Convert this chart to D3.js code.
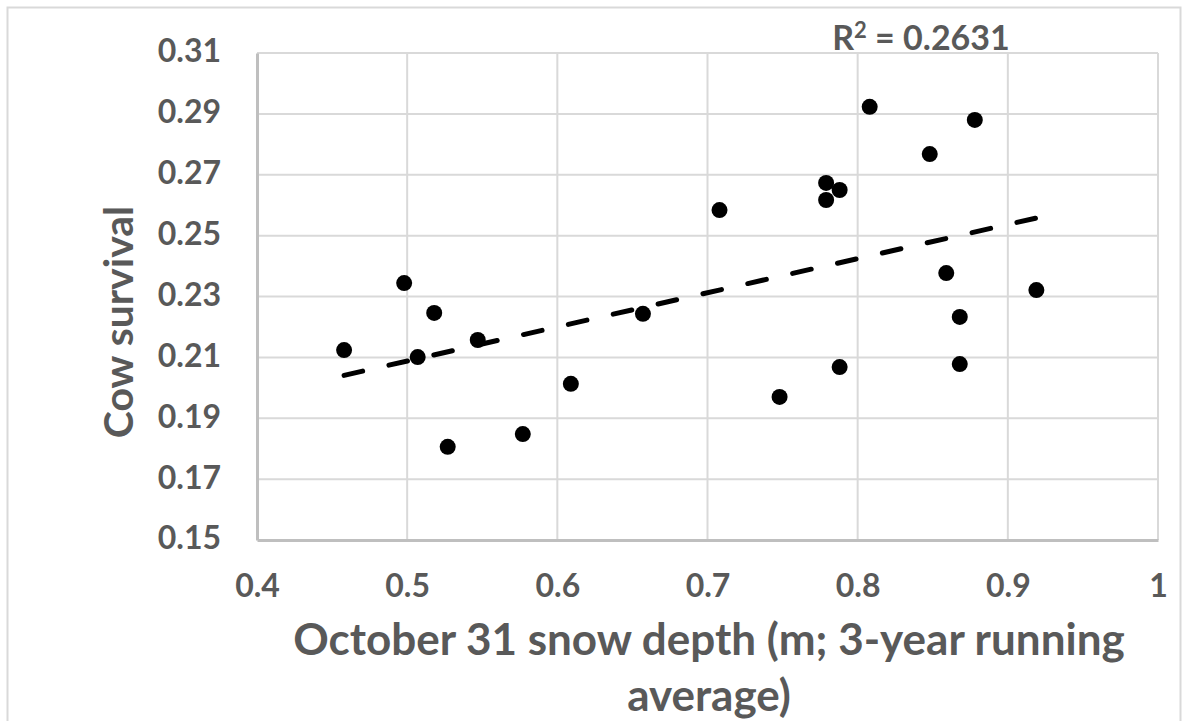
<!DOCTYPE html>
<meta charset="utf-8">
<script src="https://d3js.org/d3.v7.min.js"></script>
<style>
  body { margin: 0; background: #fff; }
  text { font-family: Lato, "Noto Sans", sans-serif; font-weight: bold; fill: #595959; }
</style>
<div id="chart"></div>
<script>
  // snow depth (m) and cow survival
  const snowDepth = [0.458, 0.498, 0.507, 0.518, 0.527, 0.547, 0.577, 0.609, 0.657, 0.708, 0.748,
                     0.779, 0.779, 0.788, 0.788, 0.808, 0.848, 0.859, 0.868, 0.868, 0.878, 0.919];
  const survival  = [0.2124, 0.2344, 0.2101, 0.2246, 0.1806, 0.2157, 0.1848, 0.2013, 0.2243, 0.2584, 0.1970,
                     0.2673, 0.2617, 0.2650, 0.2068, 0.2923, 0.2768, 0.2377, 0.2233, 0.2078, 0.2880, 0.2321];
  const xTicks = [0.4, 0.5, 0.6, 0.7, 0.8, 0.9, 1];
  const yTicks = [0.15, 0.17, 0.19, 0.21, 0.23, 0.25, 0.27, 0.29, 0.31];
  const r2Label = "0.2631";

  const width = 1188, height = 721;
  const margin = {top: 53, right: 30, bottom: 181, left: 257};

  const svg = d3.select("#chart").append("svg")
      .attr("width", width)
      .attr("height", height);

  // chart area frame
  svg.append("rect")
      .attr("x", 7.5).attr("y", 7.5)
      .attr("width", 1173).attr("height", 730)
      .attr("fill", "none")
      .attr("stroke", "#d9d9d9")
      .attr("stroke-width", 2);

  const x = d3.scaleLinear().domain([0.4, 1]).range([margin.left, 1158]);
  const y = d3.scaleLinear().domain([0.15, 0.31]).range([540, margin.top]);

  // gridlines
  svg.append("g")
    .selectAll("line")
    .data(xTicks.slice(1))
    .enter().append("line")
      .attr("x1", d => x(d)).attr("x2", d => x(d))
      .attr("y1", y(0.31)).attr("y2", y(0.15))
      .attr("stroke", "#d9d9d9").attr("stroke-width", 2);
  svg.append("g")
    .selectAll("line")
    .data(yTicks.slice(1))
    .enter().append("line")
      .attr("x1", x(0.4)).attr("x2", x(1))
      .attr("y1", d => y(d)).attr("y2", d => y(d))
      .attr("stroke", "#d9d9d9").attr("stroke-width", 2);

  // axes lines + tick labels
  const xAxis = svg.append("g")
      .attr("transform", `translate(0,${y(0.15)})`)
      .call(d3.axisBottom(x).tickValues(xTicks).tickSize(0).tickPadding(34).tickFormat(d3.format("")));
  const yAxis = svg.append("g")
      .attr("transform", `translate(${x(0.4)},0)`)
      .call(d3.axisLeft(y).tickValues(yTicks).tickSize(0).tickPadding(36).tickFormat(d3.format(".2f")));
  [xAxis, yAxis].forEach(a => {
    a.select(".domain").attr("stroke", "#bfbfbf").attr("stroke-width", 3);
    a.selectAll("text").style("font-size", "32px").attr("fill", "#595959")
      .style("font-family", "Lato, sans-serif");
  });
  yAxis.selectAll("text").attr("dy", "0.28em");

  // points
  svg.append("g")
    .selectAll("circle")
    .data(snowDepth.map((d, i) => [d, survival[i]]))
    .enter().append("circle")
      .attr("cx", d => x(d[0]))
      .attr("cy", d => y(d[1]))
      .attr("r", 8)
      .attr("fill", "#000");

  // linear trendline (least squares)
  const mx = d3.mean(snowDepth), my = d3.mean(survival);
  const slope = d3.sum(snowDepth, (d, i) => (d - mx) * (survival[i] - my)) /
                d3.sum(snowDepth, d => (d - mx) * (d - mx));
  const icpt = my - slope * mx;
  const xr = d3.extent(snowDepth);
  svg.append("line")
      .attr("x1", x(xr[0])).attr("y1", y(icpt + slope * xr[0]))
      .attr("x2", x(xr[1])).attr("y2", y(icpt + slope * xr[1]))
      .attr("stroke", "#000")
      .attr("stroke-width", 5)
      .attr("stroke-linecap", "round")
      .attr("stroke-dasharray", "19 27");

  // R² label
  const r2 = svg.append("text")
      .attr("x", 921).attr("y", 50)
      .attr("text-anchor", "middle")
      .style("font-size", "34px");
  r2.append("tspan").text("R");
  r2.append("tspan").attr("dy", -12).style("font-size", "22px").text("2");
  r2.append("tspan").attr("dy", 12).text(" = " + r2Label);

  // axis titles
  const xt = svg.append("text")
      .attr("text-anchor", "middle")
      .style("font-size", "44px");
  xt.append("tspan").attr("x", 709).attr("y", 655).text("October 31 snow depth (m; 3-year running");
  xt.append("tspan").attr("x", 709).attr("y", 711).text("average)");

  svg.append("text")
      .attr("transform", "translate(133,322) rotate(-90)")
      .attr("text-anchor", "middle")
      .style("font-size", "41px")
      .text("Cow survival");
</script>
